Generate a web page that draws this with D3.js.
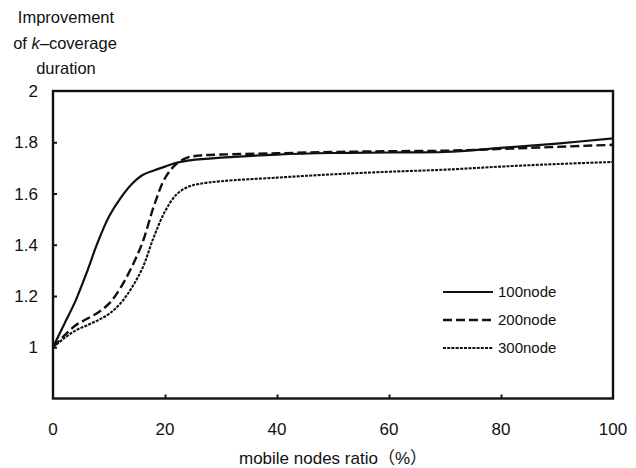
<!DOCTYPE html>
<html>
<head>
<meta charset="utf-8">
<script src="https://cdn.jsdelivr.net/npm/d3@7"></script>
<style>
  body { margin: 0; background: #fff; }
  svg text { font-family: "Liberation Sans", "Noto Sans CJK JP", sans-serif; fill: #111; }
</style>
</head>
<body>
<svg id="chart" width="636" height="468"></svg>
<script>
"use strict";

// mobile node ratio (%) sampled along the curves
var ratios = [0, 2, 4, 6, 8, 10, 12, 14, 16, 18, 20, 22, 24, 26, 30, 40, 50, 60, 70, 80, 90, 100];

var node100 = [1.0, 1.09, 1.18, 1.29, 1.41, 1.51, 1.58, 1.635, 1.672, 1.69, 1.705, 1.72, 1.728, 1.733,
  1.74, 1.752, 1.758, 1.76, 1.762, 1.778, 1.795, 1.815];
var node200 = [1.0, 1.045, 1.085, 1.11, 1.135, 1.17, 1.23, 1.31, 1.41, 1.55, 1.66, 1.715, 1.74, 1.748,
  1.752, 1.757, 1.762, 1.765, 1.767, 1.774, 1.782, 1.79];
var node300 = [1.0, 1.035, 1.065, 1.085, 1.105, 1.13, 1.17, 1.23, 1.31, 1.43, 1.53, 1.595, 1.625, 1.637,
  1.648, 1.662, 1.675, 1.685, 1.693, 1.705, 1.715, 1.723];

var seriesNames = ["100node", "200node", "300node"];
var xTicks = [0, 20, 40, 60, 80, 100];
var yTicks = [1, 1.2, 1.4, 1.6, 1.8, 2];

var Draw = (function() {
  var svg = d3.select("#chart");
  var left = 53, right = 613, top = 91, bottom = 398.5;

  var x = d3.scaleLinear().domain([0, 100]).range([left, right]);
  var y = d3.scaleLinear().domain([0.8, 2]).range([bottom, top]);

  // y axis: ticks pointing inwards, labels on the outside
  var yAxis = svg.append("g")
    .attr("transform", "translate(" + left + ",0)")
    .call(d3.axisRight(y).tickValues(yTicks.slice(0, -1)).tickSize(4).tickFormat(""));
  yAxis.select(".domain").remove();
  yAxis.selectAll("line").attr("stroke", "#111").attr("stroke-width", 2);

  svg.append("g").selectAll("text").data(yTicks)
    .enter().append("text")
    .attr("x", 38)
    .attr("y", d => y(d))
    .attr("dy", "0.36em")
    .attr("text-anchor", "end")
    .style("font-size", "17px")
    .text(d => d3.format("")(d));

  var xAxis = svg.append("g")
    .attr("transform", "translate(0," + bottom + ")")
    .call(d3.axisTop(x).tickValues(xTicks.slice(1, -1)).tickSize(4).tickFormat(""));
  xAxis.select(".domain").remove();
  xAxis.selectAll("line").attr("stroke", "#111").attr("stroke-width", 2);

  svg.append("g").selectAll("text").data(xTicks)
    .enter().append("text")
    .attr("x", d => x(d))
    .attr("y", 435)
    .attr("text-anchor", "middle")
    .style("font-size", "17px")
    .text(d => d);

  // frame
  svg.append("rect")
    .attr("x", left).attr("y", top)
    .attr("width", right - left).attr("height", bottom - top)
    .attr("fill", "none").attr("stroke", "#111").attr("stroke-width", 2.4);

  svg.append("text")
    .attr("x", 333).attr("y", 464)
    .attr("text-anchor", "middle")
    .style("font-size", "17px")
    .text("mobile nodes ratio（%）");

  // y title, three centred lines
  var yt = svg.append("text").attr("text-anchor", "middle").style("font-size", "16.5px");
  yt.append("tspan").attr("x", 66).attr("y", 23).text("Improvement");
  var l2 = yt.append("tspan").attr("x", 65).attr("y", 48.5);
  l2.append("tspan").text("of ");
  l2.append("tspan").style("font-style", "italic").text("k");
  l2.append("tspan").text("\u2013coverage");
  yt.append("tspan").attr("x", 66).attr("y", 74).text("duration");

  var dashes = [null, "9,4", "3,1.2"];
  var widths = [2.2, 2.4, 2.1];
  var data = [node100, node200, node300];

  var line = d3.line()
    .x((d, i) => x(ratios[i]))
    .y(d => y(d))
    .curve(d3.curveCatmullRom.alpha(0.5));

  svg.append("g").selectAll("path").data(data)
    .enter().append("path")
    .attr("d", line)
    .attr("fill", "none")
    .attr("stroke", "#111")
    .attr("stroke-width", (d, i) => widths[i])
    .attr("stroke-dasharray", (d, i) => dashes[i]);

  // legend
  var legend = svg.append("g").selectAll("g").data(seriesNames)
    .enter().append("g")
    .attr("transform", (d, i) => "translate(443," + (292 + i * 28) + ")");
  legend.append("line")
    .attr("x1", 0).attr("x2", 50)
    .attr("stroke", "#111")
    .attr("stroke-width", (d, i) => widths[i])
    .attr("stroke-dasharray", (d, i) => dashes[i]);
  legend.append("text")
    .attr("x", 55).attr("dy", "0.36em")
    .style("font-size", "15px")
    .text(d => d);
});

Draw();
</script>
</body>
</html>
